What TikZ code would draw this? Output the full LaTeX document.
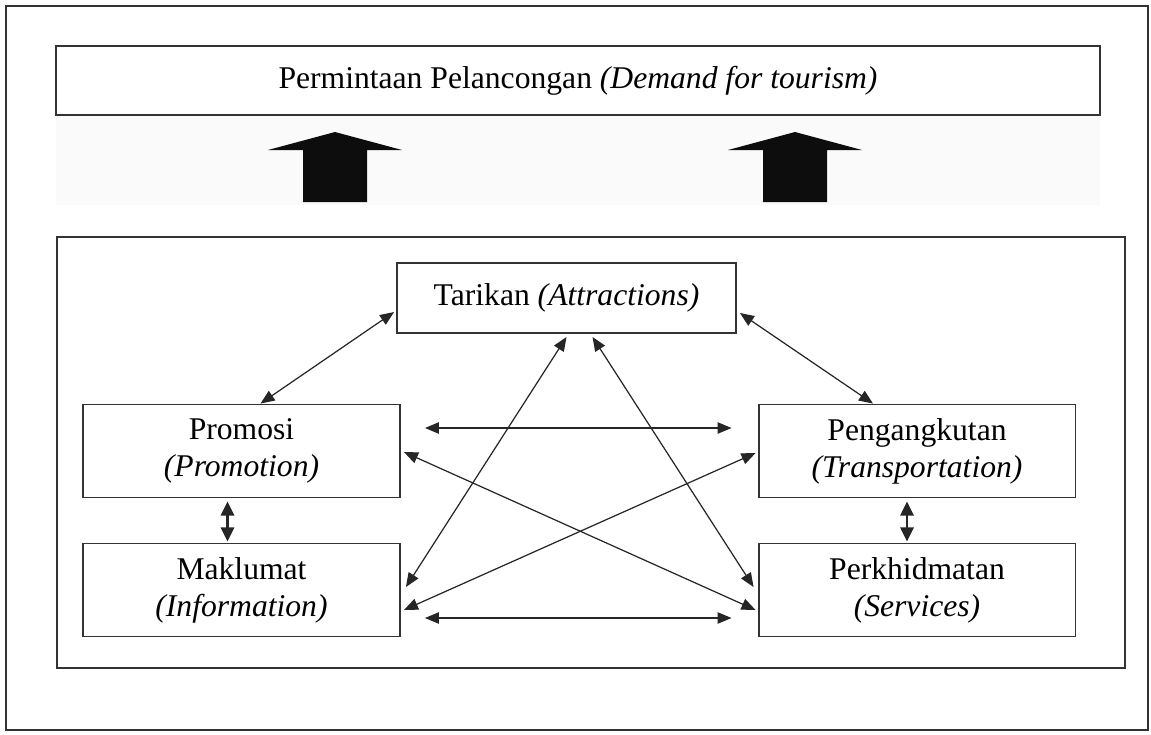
\documentclass[tikz,border=0pt]{standalone}
\usepackage{fontspec}
\setmainfont{Liberation Serif}
\usetikzlibrary{arrows.meta,positioning}

\begin{document}
\begin{tikzpicture}[
  x=0.02cm, y=-0.02cm,
  frame/.style={draw=black!80, line width=1pt},
  factorbox/.style={draw=black!80, line width=1.1pt, minimum width=6.34cm,
    minimum height=1.86cm, inner sep=0pt, align=center,
    font=\fontsize{18}{21}\selectfont},
  link/.style={{Triangle[length=8pt,width=6.5pt]}-{Triangle[length=8pt,width=6.5pt]},
    line width=0.7pt, draw=black!85},
  tieup/.style={{Triangle[length=8pt,width=7.5pt]}-{Triangle[length=8pt,width=7.5pt]},
    line width=1.2pt, draw=black!85},
  blockarrow/.style={fill=black!95, draw=none}
]
  \useasboundingbox (0,0) rectangle (1151,734);
  \draw[frame] (6,6) rectangle (1148,730);

  % demand on top
  \node[draw=black!80, line width=0.9pt, minimum width=20.88cm, minimum height=1.38cm,
    inner sep=0pt, font=\fontsize{18}{21}\selectfont] (demand) at (578,80.5)
    {Permintaan Pelancongan \textit{(Demand for tourism)}};

  \fill[black!2] (56,116) rectangle (1100,205);
  \foreach \cx in {335,795}
    \fill[blockarrow] (\cx,132) -- (\cx+67,150) -- (\cx+32,150) -- (\cx+32,202)
      -- (\cx-32,202) -- (\cx-32,150) -- (\cx-67,150) -- cycle;

  \draw[frame] (57,237) rectangle (1125,668);

  % the five factors
  \node[factorbox, minimum width=6.78cm, minimum height=1.4cm] (tarikan) at (566.5,298)
    {Tarikan \textit{(Attractions)}};
  \node[factorbox] (promosi) at (241.5,451) {Promosi\\\textit{(Promotion)}};
  \node[factorbox] (maklumat) at (241.5,590) {Maklumat\\\textit{(Information)}};
  \node[factorbox] (angkut) at (917,451) {Pengangkutan\\\textit{(Transportation)}};
  \node[factorbox] (khidmat) at (917,590) {Perkhidmatan\\\textit{(Services)}};

  \draw[link] ([shift={(-2,14)}]tarikan.west) -- ([shift={(19,0)}]promosi.north);
  \draw[link] ([shift={(3,15)}]tarikan.east) -- ([shift={(-44,0)}]angkut.north);
  \draw[link] ([shift={(24,-23)}]promosi.east) -- ([shift={(-26,-23)}]angkut.west);
  \draw[link] ([shift={(24,28)}]maklumat.east) -- ([shift={(-26,28)}]khidmat.west);
  \draw[link] ([shift={(3,1)}]promosi.east) -- ([shift={(-2,20)}]khidmat.west);
  \draw[link] ([shift={(3,20)}]maklumat.east) -- ([shift={(-2,2)}]angkut.west);
  \draw[link] ([shift={(0,3)}]tarikan.south) -- ([shift={(5,-3)}]maklumat.east);
  \draw[link] ([shift={(26,3)}]tarikan.south) -- ([shift={(-4,-3)}]khidmat.west);

  \draw[tieup] ([shift={(-14,3)}]promosi.south) -- ([shift={(-14,-1)}]maklumat.north);
  \draw[tieup] ([shift={(-10,3)}]angkut.south) -- ([shift={(-10,-1)}]khidmat.north);
\end{tikzpicture}
\end{document}
